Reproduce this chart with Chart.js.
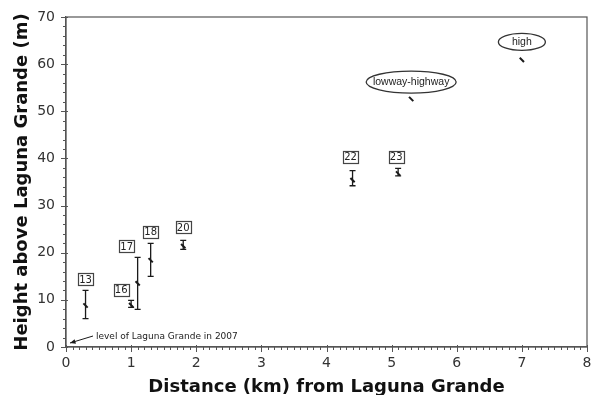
<!DOCTYPE html>
<html>
<head>
<meta charset="utf-8">
<script src="https://cdn.jsdelivr.net/npm/chart.js@4/dist/chart.umd.min.js"></script>
<style>
  html, body { margin: 0; padding: 0; background: #fff; }
  #wrap { width: 593px; height: 395px; }
</style>
</head>
<body>
<div id="wrap"><canvas id="c" width="593" height="395"></canvas></div>
<script>
// Dated sample sites: distance from the lake and height above it
const sites   = ['13', '16', '17', '18', '20', '22', '23'];
const distKm  = [0.3, 1.0, 1.1, 1.3, 1.8, 4.4, 5.1];
const heightM = [8.8, 8.9, 13.5, 18.4, 21.4, 35.4, 36.8];
const lowM    = [6.0, 8.4, 8.0, 15.0, 20.7, 34.2, 36.3];
const highM   = [12.0, 9.9, 19.0, 22.0, 22.6, 37.4, 37.9];

// Shoreline terraces
const terraceNames = ['lowway-highway', 'high'];
const terraceKm    = [5.3, 7.0];
const terraceM     = [52.6, 60.9];

// Axis ranges and tick labels
const xTicks = [0, 1, 2, 3, 4, 5, 6, 7, 8];
const yTicks = [0, 10, 20, 30, 40, 50, 60, 70];

const siteData = distKm.map((x, i) => ({ x, y: heightM[i], lo: lowM[i], hi: highM[i], name: sites[i] }));
const terraceData = terraceKm.map((x, i) => ({ x, y: terraceM[i], name: terraceNames[i] }));

const INK = '#1a1a1a';
const AXIS = '#555';

const decorations = {
  id: 'decorations',
  afterDatasetsDraw(chart) {
    const { ctx, chartArea: a, scales: { x, y } } = chart;
    ctx.save();

    // frame round the plotting area
    ctx.strokeStyle = AXIS;
    ctx.lineWidth = 1.2;
    ctx.strokeRect(a.left, a.top, a.right - a.left, a.bottom - a.top);

    // major and minor tick marks
    ctx.lineWidth = 1;
    ctx.strokeStyle = AXIS;
    ctx.beginPath();
    for (let v = 0; v <= 70.001; v += 2) {
      const py = Math.round(y.getPixelForValue(v)) + 0.5;
      const major = Math.abs(v % 10) < 1e-6;
      ctx.moveTo(a.left - (major ? 5 : 3), py);
      ctx.lineTo(a.left + (major ? 2 : 0), py);
    }
    for (let k = 0; k <= 80; k++) {
      const px = Math.round(x.getPixelForValue(k / 10)) + 0.5;
      const major = k % 10 === 0;
      ctx.moveTo(px, a.bottom + (major ? 5 : 3));
      ctx.lineTo(px, a.bottom - (major ? 2 : 0));
    }
    ctx.stroke();

    // error bars
    ctx.strokeStyle = INK;
    ctx.lineWidth = 1.3;
    siteData.forEach(d => {
      const px = x.getPixelForValue(d.x);
      const pLo = y.getPixelForValue(d.lo);
      const pHi = y.getPixelForValue(d.hi);
      ctx.beginPath();
      ctx.moveTo(px, pLo); ctx.lineTo(px, pHi);
      ctx.moveTo(px - 3, pLo); ctx.lineTo(px + 3, pLo);
      ctx.moveTo(px - 3, pHi); ctx.lineTo(px + 3, pHi);
      ctx.stroke();
    });

    // boxed site numbers above each bar
    const nudgeX = { '16': -10, '17': -11, '22': -2, '23': -2 };
    const lift = { '16': -1, '20': 2, '22': 3 };
    ctx.font = '10px "DejaVu Sans", Verdana, sans-serif';
    ctx.textAlign = 'center';
    ctx.textBaseline = 'middle';
    siteData.forEach(d => {
      const cx = x.getPixelForValue(d.x) + (nudgeX[d.name] || 0);
      const bottom = y.getPixelForValue(d.hi) - 5 - (lift[d.name] || 0);
      const w = 15, h = 12;
      ctx.fillStyle = '#fff';
      ctx.fillRect(cx - w / 2, bottom - h, w, h);
      ctx.strokeStyle = '#444';
      ctx.lineWidth = 1.2;
      ctx.strokeRect(Math.round(cx - w / 2) + 0.5, Math.round(bottom - h) + 0.5, w, h);
      ctx.fillStyle = '#222';
      ctx.fillText(d.name, cx, bottom - h / 2 + 0.5);
    });

    // ellipse labels over the terraces
    const ell = { 'lowway-highway': { w: 90, h: 22, up: 17 }, 'high': { w: 47, h: 17, up: 18 } };
    ctx.font = '10.5px "Liberation Sans", Arial, sans-serif';
    terraceData.forEach(d => {
      const e = ell[d.name];
      const cx = x.getPixelForValue(d.x);
      const cy = y.getPixelForValue(d.y) - e.up;
      ctx.beginPath();
      ctx.ellipse(cx, cy, e.w / 2, e.h / 2, 0, 0, Math.PI * 2);
      ctx.strokeStyle = '#333';
      ctx.lineWidth = 1.3;
      ctx.stroke();
      ctx.fillStyle = '#222';
      ctx.fillText(d.name, cx, cy + 0.5);
    });

    // arrow to the lake level
    const tipX = x.getPixelForValue(0) + 4;
    const tipY = y.getPixelForValue(0) - 4;
    const tailX = tipX + 23, tailY = tipY - 7;
    ctx.strokeStyle = INK;
    ctx.fillStyle = INK;
    ctx.lineWidth = 1;
    ctx.beginPath();
    ctx.moveTo(tailX, tailY); ctx.lineTo(tipX, tipY);
    ctx.stroke();
    const ang = Math.atan2(tipY - tailY, tipX - tailX);
    ctx.beginPath();
    ctx.moveTo(tipX, tipY);
    ctx.lineTo(tipX - 6 * Math.cos(ang - 0.4), tipY - 6 * Math.sin(ang - 0.4));
    ctx.lineTo(tipX - 6 * Math.cos(ang + 0.4), tipY - 6 * Math.sin(ang + 0.4));
    ctx.closePath();
    ctx.fill();
    ctx.font = '9px "DejaVu Sans", Verdana, sans-serif';
    ctx.textAlign = 'left';
    ctx.fillStyle = '#222';
    ctx.fillText('level of Laguna Grande in 2007', tailX + 3, tailY + 0.5);

    ctx.restore();
  }
};

new Chart(document.getElementById('c'), {
  type: 'scatter',
  data: {
    datasets: [
      {
        label: 'sites',
        data: siteData,
        pointStyle: 'line',
        rotation: 45,
        radius: 3,
        borderWidth: 2,
        borderColor: INK,
        backgroundColor: INK
      },
      {
        label: 'terraces',
        data: terraceData,
        pointStyle: 'line',
        rotation: 45,
        radius: 3,
        borderWidth: 2,
        borderColor: INK,
        backgroundColor: INK
      }
    ]
  },
  options: {
    responsive: false,
    animation: false,
    events: [],
    layout: { padding: { left: 0, right: 6, top: 17, bottom: 0 } },
    plugins: { legend: { display: false }, tooltip: { enabled: false } },
    scales: {
      x: {
        type: 'linear',
        min: 0, max: 8,
        afterBuildTicks: s => { s.ticks = xTicks.map(v => ({ value: v })); },
        afterFit: s => { s.height = 48; s.paddingLeft = 0; s.paddingRight = 0; },
        grid: { display: true, drawOnChartArea: false, drawTicks: false },
        border: { display: true, color: AXIS, width: 1.2 },
        ticks: {
          padding: 8,
          color: '#333',
          font: { family: '"DejaVu Sans", Verdana, sans-serif', size: 14 },
          maxRotation: 0
        },
        title: {
          display: true,
          text: 'Distance (km) from Laguna Grande',
          color: '#111',
          font: { family: '"DejaVu Sans", Verdana, sans-serif', size: 18, weight: 'bold' },
          padding: { top: 0, bottom: -3 }
        }
      },
      y: {
        type: 'linear',
        min: 0, max: 70,
        afterBuildTicks: s => { s.ticks = yTicks.map(v => ({ value: v })); },
        afterFit: s => { s.width = 66; s.paddingTop = 0; s.paddingBottom = 0; },
        grid: { display: true, drawOnChartArea: false, drawTicks: false },
        border: { display: true, color: AXIS, width: 1.2 },
        ticks: {
          padding: 11,
          color: '#333',
          font: { family: '"DejaVu Sans", Verdana, sans-serif', size: 14 }
        },
        title: {
          display: true,
          text: 'Height above Laguna Grande (m)',
          color: '#111',
          font: { family: '"DejaVu Sans", Verdana, sans-serif', size: 18, weight: 'bold' },
          padding: { top: 12, bottom: 0 }
        }
      }
    }
  },
  plugins: [decorations]
});
</script>
</body>
</html>
